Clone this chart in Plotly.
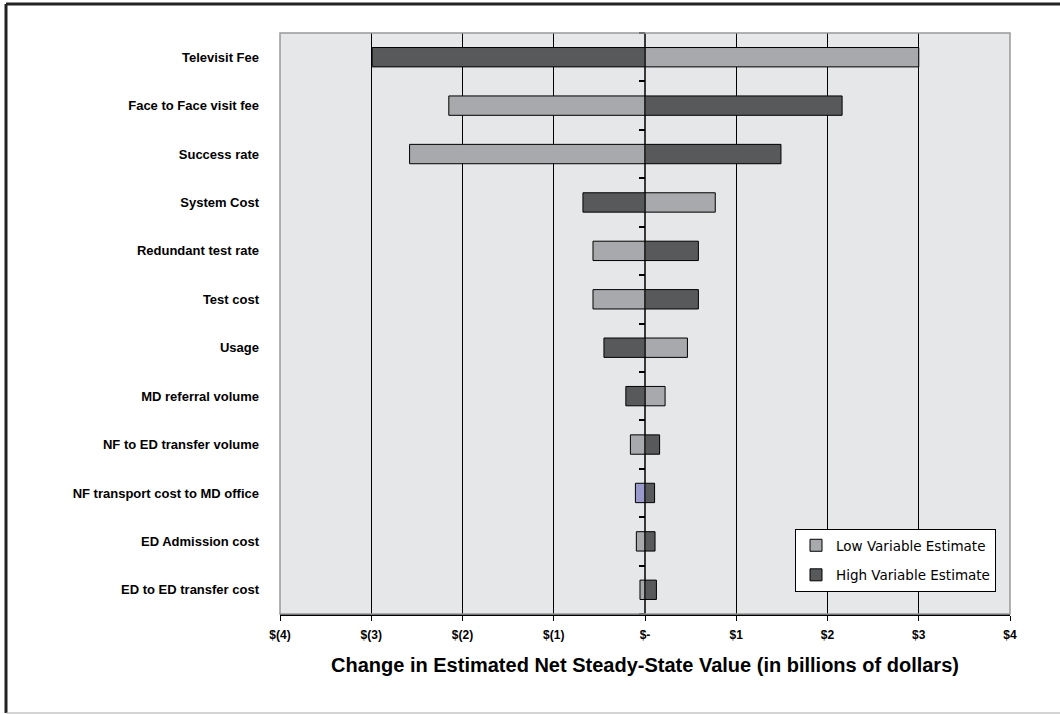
import plotly.graph_objects as go

categories = [
    "Televisit Fee",
    "Face to Face visit fee",
    "Success rate",
    "System Cost",
    "Redundant test rate",
    "Test cost",
    "Usage",
    "MD referral volume",
    "NF to ED transfer volume",
    "NF transport cost to MD office",
    "ED Admission cost",
    "ED to ED transfer cost",
]
low_values = [3.0, -2.15, -2.58, 0.77, -0.57, -0.57, 0.465, 0.22, -0.16, -0.105, -0.095, -0.055]
high_values = [-2.99, 2.16, 1.49, -0.68, 0.585, 0.585, -0.45, -0.21, 0.16, 0.105, 0.11, 0.125]
x_tick_values = [-4, -3, -2, -1, 0, 1, 2, 3, 4]
x_tick_labels = ["$(4)", "$(3)", "$(2)", "$(1)", "$-", "$1", "$2", "$3", "$4"]

LIGHT = "#A8A9AC"
DARK = "#58595B"
PURPLE = "#9999CC"
low_colors = [PURPLE if c == "NF transport cost to MD office" else LIGHT for c in categories]

W, H = 1060, 714
ML, MR, MT, MB = 280, 50, 33, 100
PW, PH = W - ML - MR, H - MT - MB


def px_x(p):
    return (p - ML) / PW


def px_y(p):
    return (H - MB - p) / PH


fig = go.Figure()
fig.add_trace(go.Bar(
    y=categories, x=low_values, orientation="h", name="Low Variable Estimate",
    marker=dict(color=low_colors, line=dict(color="black", width=1)),
    width=0.4, legendgroup="low",
))
fig.add_trace(go.Bar(
    y=categories, x=high_values, orientation="h", name="High Variable Estimate",
    marker=dict(color=DARK, line=dict(color="black", width=1)),
    width=0.4, legendgroup="high",
))
# invisible trace to carry the secondary axis used for the centre tick marks
fig.add_trace(go.Scatter(x=[None], y=[None], yaxis="y2", showlegend=False, hoverinfo="skip"))

n = len(categories)
fig.update_layout(
    width=W, height=H,
    margin=dict(l=ML, r=MR, t=MT, b=MB),
    paper_bgcolor="white",
    plot_bgcolor="#E6E7E8",
    barmode="overlay",
    font=dict(family="Liberation Sans, Arial, sans-serif", color="black"),
    xaxis=dict(
        range=[-4, 4], tickvals=x_tick_values, ticktext=x_tick_labels,
        showgrid=True, gridcolor="black", gridwidth=1,
        zeroline=True, zerolinecolor="#3a3a3a", zerolinewidth=2,
        showline=True, linecolor="black", linewidth=1.5,
        ticks="outside", ticklen=5, tickcolor="black",
        ticklabelstandoff=4,
        tickfont=dict(family="Liberation Sans Narrow, Arial Narrow, Liberation Sans, Arial", size=12, weight="bold"),
        title=dict(text="Change in Estimated Net Steady-State Value (in billions of dollars)",
                   font=dict(size=20, weight="bold"), standoff=17),
        domain=[0, 1],
    ),
    yaxis=dict(
        type="category", categoryorder="array", categoryarray=categories,
        range=[n - 0.5, -0.5],
        showgrid=False, zeroline=False, showline=False, ticks="",
        tickfont=dict(size=13, weight="bold"),
        ticklabelstandoff=20,
    ),
    yaxis2=dict(
        overlaying="y", anchor="free", position=0.5, side="left",
        range=[n - 0.5, -0.5],
        tickvals=[i - 0.5 for i in range(n + 1)],
        showticklabels=False, ticks="outside", ticklen=6, tickwidth=1.5, tickcolor="black",
        showgrid=False, zeroline=False, showline=False,
    ),
    legend=dict(
        x=px_x(795), y=px_y(529), xanchor="left", yanchor="top",
        bgcolor="white", bordercolor="black", borderwidth=1,
        font=dict(family="DejaVu Sans, Liberation Sans", size=13.5),
        tracegroupgap=9, traceorder="grouped",
    ),
    showlegend=True,
    shapes=[
        # plot area border (grey)
        dict(type="rect", xref="paper", yref="paper", x0=0, x1=1, y0=0, y1=1,
             line=dict(color="#999999", width=1.5), layer="above"),
        # outer frame
        dict(type="line", xref="paper", yref="paper", x0=px_x(6), x1=px_x(W), y0=px_y(4), y1=px_y(4),
             line=dict(color="#222222", width=3)),
        dict(type="line", xref="paper", yref="paper", x0=px_x(6), x1=px_x(6), y0=px_y(4), y1=px_y(713),
             line=dict(color="#222222", width=3)),
        dict(type="line", xref="paper", yref="paper", x0=px_x(6), x1=px_x(W), y0=px_y(713), y1=px_y(713),
             line=dict(color="#AAAAAA", width=1)),
    ],
)

fig.write_html("out.html", config={"displayModeBar": False},
               post_script="document.body.style.margin='0';")
